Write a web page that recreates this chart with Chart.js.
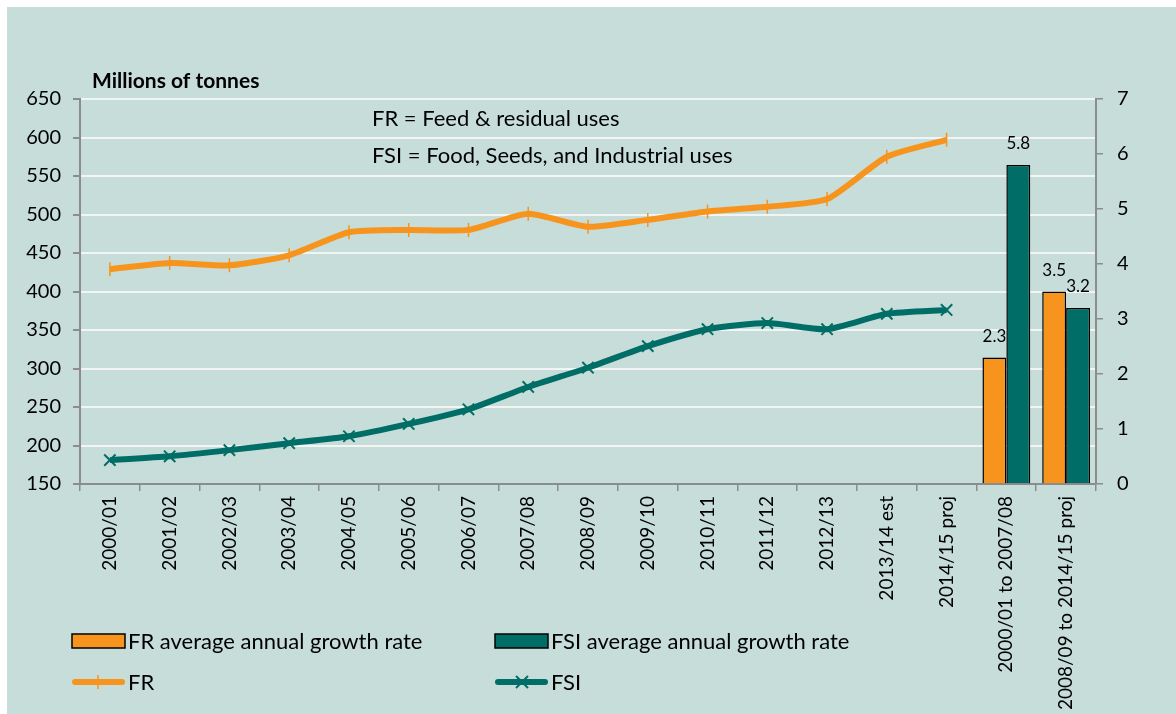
<!DOCTYPE html>
<html>
<head>
<meta charset="utf-8">
<title>FR and FSI use</title>
<script src="https://cdn.jsdelivr.net/npm/chart.js@4"></script>
<style>
    html, body { margin: 0; padding: 0; background: #ffffff; }
    #wrap { position: relative; width: 1176px; height: 714px; }
</style>
</head>
<body>
<div id="wrap"><canvas id="useChart" width="1176" height="714"></canvas></div>
<script>
// 1. Chart data
const years = ['2000/01', '2001/02', '2002/03', '2003/04', '2004/05', '2005/06', '2006/07',
    '2007/08', '2008/09', '2009/10', '2010/11', '2011/12', '2012/13', '2013/14 est', '2014/15 proj'];
const periods = ['2000/01 to 2007/08', '2008/09 to 2014/15 proj'];

// 1.1 millions of tonnes (left axis)
const frValues = [429, 437, 434, 447, 477, 480, 480, 501, 484, 493, 504, 510, 520, 575, 597];
const fsiValues = [181, 186, 194, 203, 212, 228, 247, 276, 301, 329, 351, 359, 351, 371, 376];

// 1.2 average annual growth rate, % (right axis)
const frGrowth = [2.3, 3.5];
const fsiGrowth = [5.8, 3.2];

// 1.3 tick settings
const leftTicks = { min: 150, max: 650, step: 50 };
const rightTicks = { min: 0, max: 7, step: 1 };

// 2. Colours and fonts
const ORANGE = '#f7941d';
const TEAL = '#006e66';
const BG = '#c7ddda';
const AXIS = '#8c8c8c';
const FONT = 'Lato, "Open Sans", sans-serif';

// 2.1 build padded series: lines fill the year slots, bars the period slots
const labels = years.concat(periods);
const blankPeriods = periods.map(() => null);
const blankYears = years.map(() => null);

// 3. Plugin: background, title, notes, bar values and legend
const decorPlugin = {
    id: 'decor',
    beforeDraw(chart) {
        const ctx = chart.ctx;
        ctx.save();
        ctx.fillStyle = BG;
        ctx.fillRect(7, 7, chart.width - 7, chart.height - 7);
        ctx.restore();
    },
    afterDraw(chart) {
        const ctx = chart.ctx;
        ctx.save();
        ctx.fillStyle = '#000';
        ctx.textBaseline = 'middle';

        // 3.1 axis title and notes
        ctx.font = `bold 21px ${FONT}`;
        ctx.fillText('Millions of tonnes', 92, 81);
        ctx.font = `22px ${FONT}`;
        ctx.fillText('FR = Feed & residual uses', 372, 119);
        ctx.fillText('FSI = Food, Seeds, and Industrial uses', 372, 156);

        // 3.2 value labels above the bars
        ctx.font = `17px ${FONT}`;
        ctx.textAlign = 'center';
        [2, 3].forEach(i => {
            const meta = chart.getDatasetMeta(i);
            meta.data.forEach((bar, j) => {
                const v = chart.data.datasets[i].data[j];
                if (v == null) return;
                ctx.fillText(v.toFixed(1), bar.x, bar.y - 21);
            });
        });

        // 3.3 legend (two columns, two rows)
        ctx.textAlign = 'left';
        ctx.font = `22px ${FONT}`;
        const cols = [72, 495];
        const rowBars = 641, rowLines = 682;

        [ORANGE, TEAL].forEach((c, k) => {
            ctx.fillStyle = c;
            ctx.fillRect(cols[k], rowBars - 7, 53, 14);
            ctx.strokeStyle = '#000';
            ctx.lineWidth = 1.5;
            ctx.strokeRect(cols[k], rowBars - 7, 53, 14);
        });
        ctx.fillStyle = '#000';
        ctx.fillText('FR average annual growth rate', cols[0] + 56, rowBars + 1);
        ctx.fillText('FSI average annual growth rate', cols[1] + 56, rowBars + 1);

        [ORANGE, TEAL].forEach((c, k) => {
            ctx.strokeStyle = c;
            ctx.lineWidth = 6;
            ctx.lineCap = 'round';
            ctx.beginPath();
            ctx.moveTo(cols[k] + 3, rowLines);
            ctx.lineTo(cols[k] + 50, rowLines);
            ctx.stroke();
        });
        ctx.lineCap = 'butt';
        // orange tick marker
        ctx.strokeStyle = ORANGE;
        ctx.lineWidth = 1.5;
        ctx.beginPath();
        ctx.moveTo(cols[0] + 26, rowLines - 7);
        ctx.lineTo(cols[0] + 26, rowLines + 7);
        ctx.stroke();
        // teal cross marker
        ctx.strokeStyle = TEAL;
        ctx.lineWidth = 2;
        const cx = cols[1] + 27, d = 6;
        ctx.beginPath();
        ctx.moveTo(cx - d, rowLines - d);
        ctx.lineTo(cx + d, rowLines + d);
        ctx.moveTo(cx + d, rowLines - d);
        ctx.lineTo(cx - d, rowLines + d);
        ctx.stroke();

        ctx.fillStyle = '#000';
        ctx.fillText('FR', cols[0] + 56, rowLines + 1);
        ctx.fillText('FSI', cols[1] + 56, rowLines + 1);
        ctx.restore();
    }
};

// 4. Render chart
const ctx = document.getElementById('useChart').getContext('2d');
new Chart(ctx, {
    data: {
        labels: labels,
        datasets: [
            {
                type: 'line',
                label: 'FR',
                data: frValues.concat(blankPeriods),
                yAxisID: 'y',
                borderColor: ORANGE,
                backgroundColor: ORANGE,
                borderWidth: 6,
                tension: 0.2,
                pointStyle: 'line',
                rotation: 90,
                pointRadius: 7,
                pointBorderWidth: 1.5,
                pointBorderColor: ORANGE,
                order: 0
            },
            {
                type: 'line',
                label: 'FSI',
                data: fsiValues.concat(blankPeriods),
                yAxisID: 'y',
                borderColor: TEAL,
                backgroundColor: TEAL,
                borderWidth: 6,
                tension: 0.2,
                pointStyle: 'crossRot',
                pointRadius: 8,
                pointBorderWidth: 2,
                pointBorderColor: TEAL,
                order: 0
            },
            {
                type: 'bar',
                label: 'FR average annual growth rate',
                data: blankYears.concat(frGrowth),
                yAxisID: 'y1',
                backgroundColor: ORANGE,
                borderColor: '#000',
                borderWidth: 1.5,
                categoryPercentage: 0.8,
                barPercentage: 1,
                order: 1
            },
            {
                type: 'bar',
                label: 'FSI average annual growth rate',
                data: blankYears.concat(fsiGrowth),
                yAxisID: 'y1',
                backgroundColor: TEAL,
                borderColor: '#000',
                borderWidth: 1.5,
                categoryPercentage: 0.8,
                barPercentage: 1,
                order: 1
            }
        ]
    },
    options: {
        responsive: false,
        animation: false,
        spanGaps: false,
        layout: { padding: { top: 99, left: 0, right: 0, bottom: 0 } },
        plugins: {
            legend: { display: false },
            tooltip: { enabled: false }
        },
        scales: {
            x: {
                offset: true,
                grid: {
                    offset: true,
                    drawOnChartArea: false,
                    tickLength: 7,
                    tickColor: AXIS,
                    lineWidth: 1.5
                },
                border: { color: AXIS, width: 2 },
                ticks: {
                    color: '#000',
                    font: { family: FONT, size: 19 },
                    minRotation: 90,
                    maxRotation: 90,
                    autoSkip: false,
                    padding: 5
                },
                afterFit(scale) { scale.height = 714 - 484; }
            },
            y: {
                position: 'left',
                min: leftTicks.min,
                max: leftTicks.max,
                grid: {
                    color: '#f2f5f4',
                    lineWidth: 2,
                    tickLength: 7,
                    tickColor: AXIS
                },
                border: { color: AXIS, width: 2 },
                ticks: {
                    stepSize: leftTicks.step,
                    color: '#000',
                    font: { family: FONT, size: 20 },
                    padding: 12
                },
                afterFit(scale) { scale.width = 80; }
            },
            y1: {
                position: 'right',
                min: rightTicks.min,
                max: rightTicks.max,
                grid: {
                    drawOnChartArea: false,
                    tickLength: 7,
                    tickColor: AXIS,
                    lineWidth: 1.5
                },
                border: { color: AXIS, width: 2 },
                ticks: {
                    stepSize: rightTicks.step,
                    color: '#000',
                    font: { family: FONT, size: 20 },
                    padding: 14
                },
                afterFit(scale) { scale.width = 1176 - 1096; }
            }
        }
    },
    plugins: [decorPlugin]
});
</script>
</body>
</html>
